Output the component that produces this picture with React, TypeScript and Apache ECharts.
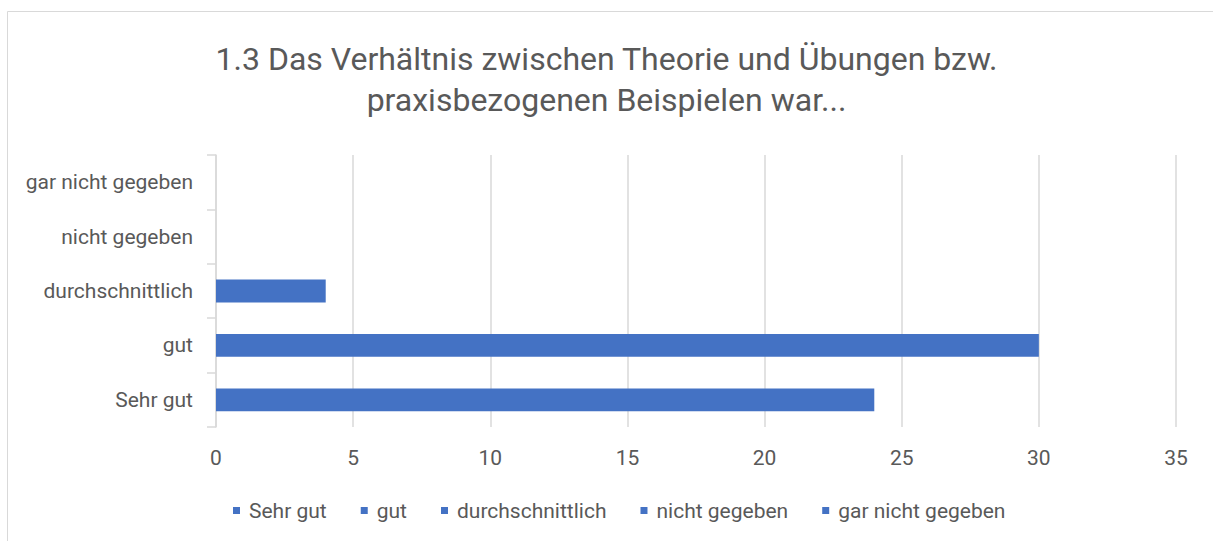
import React, { useEffect, useRef } from "react";
import * as echarts from "echarts";

const categories = ["Sehr gut", "gut", "durchschnittlich", "nicht gegeben", "gar nicht gegeben"];
const values = [24, 30, 4, 0, 0];
const titleLines = ["1.3 Das Verhältnis zwischen Theorie und Übungen bzw.", "praxisbezogenen Beispielen war..."];

const FONT = "Roboto, 'Noto Sans', sans-serif";
const TXT = "#595959";
const GRID = "#d9d9d9";
const BLUE = "#4472C4";

export default function App() {
  const ref = useRef<HTMLDivElement>(null);
  useEffect(() => {
    document.body.style.margin = "0";
    const chart = echarts.init(ref.current!, undefined, { renderer: "svg" });
    const series = categories.map((name, i) => ({
      name,
      type: "bar",
      stack: "all",
      barWidth: "42%",
      itemStyle: { color: BLUE },
      data: categories.map((_, j) => (j === i ? values[i] : "-")),
    }));
    chart.setOption({
      animation: false,
      textStyle: { fontFamily: FONT },
      graphic: [
        {
          type: "rect",
          shape: { x: 7.5, y: 11.5, width: 1400, height: 700 },
          style: { fill: "none", stroke: GRID, lineWidth: 1 },
          silent: true,
        },
      ],
      title: {
        text: titleLines.join("\n"),
        left: "center",
        top: 33,
        textStyle: { fontFamily: FONT, fontSize: 32, fontWeight: "normal", color: TXT, lineHeight: 41 },
      },
      legend: {
        bottom: 15,
        left: 228,
        icon: "rect",
        itemWidth: 7,
        itemHeight: 7,
        itemGap: 34,
        textStyle: { fontFamily: FONT, fontSize: 21, color: TXT, padding: [0, 0, 0, 4] },
        data: categories,
      },
      grid: { left: 216, right: 37, top: 155, bottom: 114, containLabel: false },
      xAxis: {
        type: "value",
        min: 0,
        max: 35,
        interval: 5,
        axisLine: { show: false },
        axisTick: { show: false },
        splitLine: { show: true, lineStyle: { color: GRID, width: 1.5 } },
        axisLabel: { color: TXT, fontSize: 21, fontFamily: FONT, margin: 20 },
      },
      yAxis: {
        type: "category",
        data: categories,
        axisLine: { show: true, lineStyle: { color: GRID, width: 1.5 } },
        axisTick: { show: true, length: 9, lineStyle: { color: GRID, width: 1.5 } },
        axisLabel: { color: TXT, fontSize: 21, fontFamily: FONT, margin: 23 },
      },
      series,
    });
    return () => chart.dispose();
  }, []);
  return <div ref={ref} style={{ width: 1213, height: 541 }} />;
}
